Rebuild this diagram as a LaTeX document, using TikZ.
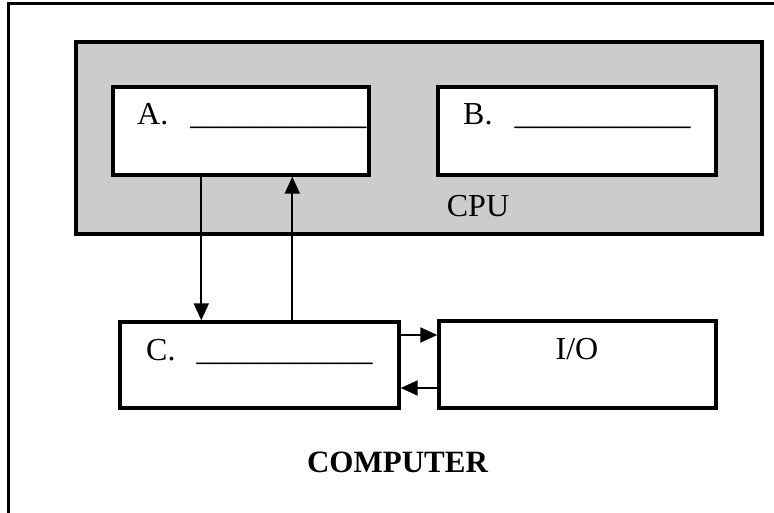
\documentclass[tikz,border=0pt]{standalone}
\usepackage{fontspec}
\setmainfont{Liberation Serif}
\usepackage{tikz}
\usetikzlibrary{arrows.meta, positioning}
\def\boxLine{3.4pt}
\def\arrLine{1.9pt}
\newcommand{\blank}{\_\_\_\_\_\_\_\_\_\_\_}

\begin{document}
\begin{tikzpicture}[
    x=1pt, y=-1pt,
    >={Triangle[length=17pt,width=15pt]},
    every node/.style={font=\fontsize{32}{38}\selectfont, inner sep=0pt},
    part/.style={rectangle, draw, line width=\boxLine, fill=white},
    label text/.style={anchor=base west},
    link/.style={->, line width=\arrLine}
]
\useasboundingbox (0,0) rectangle (774,513);
\clip (0,0) rectangle (774,513);
% outer frame, runs off the page at right and bottom
\draw[line width=3pt] (8,4) rectangle (790,530);

% CPU
\node[part, fill=black!20, minimum width=686, minimum height=192] (cpu) at (419,138) {};
\node[part, minimum width=256, minimum height=88] (boxA) at (241,131) {};
\node[part, minimum width=278, minimum height=88] (boxB) at (577,131) {};
\node[anchor=base] (cpuText) at (478,217) {CPU};

% memory and I/O
\node[part, minimum width=279, minimum height=86] (boxC) at (259.5,365) {};
\node[part, minimum width=277, minimum height=87] (io) at (577.5,364.5) {};
\node[anchor=base] (ioText) at (577,359) {I/O};

% labels
\node[label text] (textA) at (137,125) {A.\hspace{22pt}\blank};
\node[label text] (textB) at (463,125) {B.\hspace{22pt}\blank};
\node[label text] (textC) at (146,360) {C.\hspace{21pt}\blank};
\node[anchor=base, font=\fontsize{31}{36}\selectfont\bfseries] (title) at (397.5,472) {COMPUTER};

% connections
\draw[link] ([xshift=90pt]boxA.south west) -- ([xshift=83pt]boxC.north west);
\draw[link] ([xshift=174pt]boxC.north west) -- ([xshift=181pt]boxA.south west);
\draw[link] ([yshift=30pt]boxC.east) -- ([yshift=30pt]boxC.east -| io.west);
\draw[link] ([yshift=-23pt]boxC.east -| io.west) -- ([yshift=-23pt]boxC.east);
\end{tikzpicture}
\end{document}
